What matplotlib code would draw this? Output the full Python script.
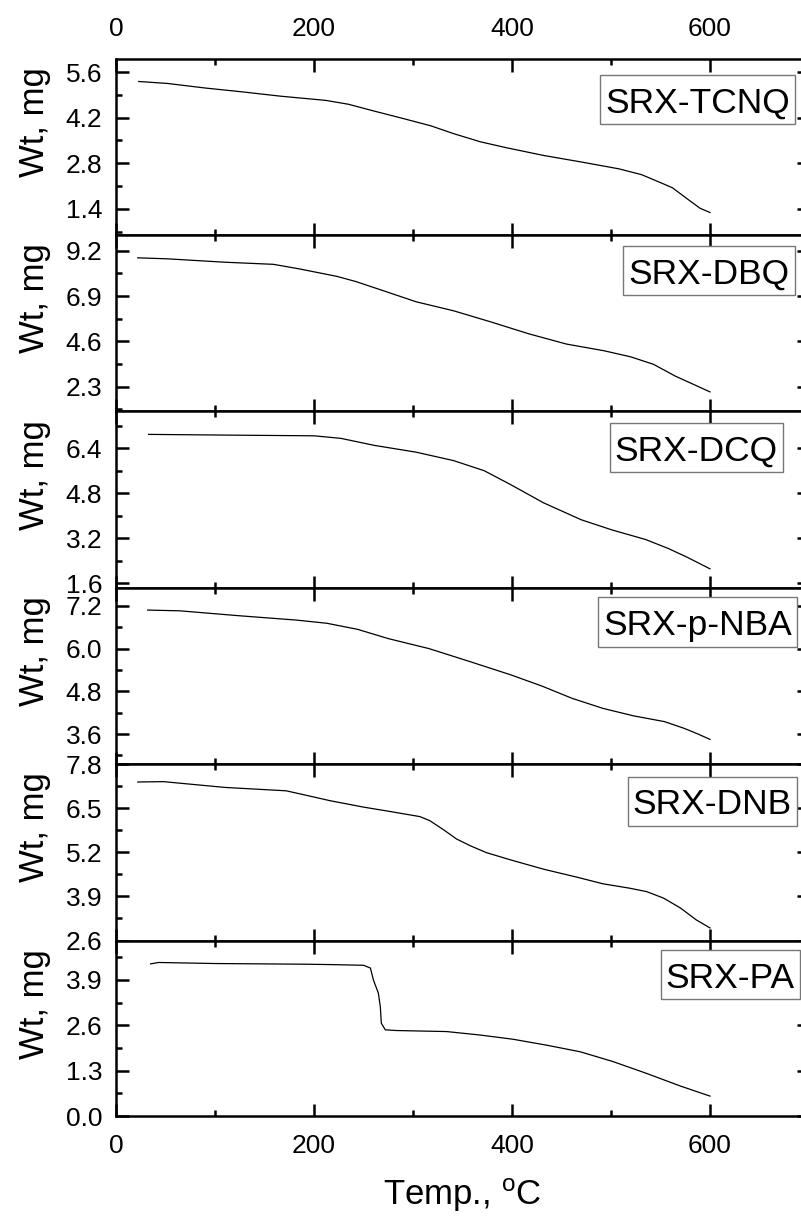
import numpy as np
import matplotlib
matplotlib.use('Agg')
import matplotlib.pyplot as plt
from matplotlib.patches import Rectangle
from matplotlib.ticker import AutoMinorLocator

plt.rcParams['font.family'] = ['Liberation Sans', 'DejaVu Sans']
plt.rcParams['mathtext.fontset'] = 'custom'
plt.rcParams['mathtext.rm'] = 'Liberation Sans'

# TGA curves (temperature in C, weight in mg)
names = ['SRX-TCNQ', 'SRX-DBQ', 'SRX-DCQ', 'SRX-p-NBA', 'SRX-DNB', 'SRX-PA']

t_tcnq = [23, 52, 90, 128, 166, 212, 235, 261, 288, 318, 341, 368, 394, 432, 470,
          508, 531, 549, 562, 573, 581, 590, 600]
w_tcnq = [5.31, 5.25, 5.11, 4.99, 4.86, 4.73, 4.61, 4.40, 4.19, 3.95, 3.71, 3.46, 3.28,
          3.04, 2.84, 2.63, 2.45, 2.22, 2.05, 1.80, 1.62, 1.42, 1.29]

t_dbq = [22, 52, 109, 159, 185, 223, 242, 273, 303, 341, 379, 417, 455, 493, 520,
         543, 565, 583, 600]
w_dbq = [8.84, 8.79, 8.62, 8.51, 8.28, 7.90, 7.64, 7.12, 6.61, 6.15, 5.58, 4.98, 4.46,
         4.12, 3.81, 3.43, 2.83, 2.42, 2.03]

t_dcq = [33, 128, 200, 227, 261, 303, 341, 372, 398, 432, 470, 501, 535, 558, 577, 600]
w_dcq = [6.89, 6.86, 6.84, 6.75, 6.50, 6.26, 5.96, 5.60, 5.12, 4.46, 3.86, 3.50, 3.16,
         2.84, 2.53, 2.12]

t_nba = [32, 64, 125, 182, 213, 244, 275, 316, 358, 399, 430, 461, 492, 523, 554,
         574, 588, 600]
w_nba = [7.08, 7.06, 6.92, 6.80, 6.71, 6.54, 6.28, 6.00, 5.63, 5.26, 4.95, 4.60, 4.32,
         4.11, 3.95, 3.76, 3.60, 3.45]

t_dnb = [22, 48, 110, 172, 198, 216, 250, 277, 307, 317, 331, 344, 358, 374, 398,
         432, 465, 492, 519, 536, 553, 570, 586, 600]
w_dnb = [7.27, 7.28, 7.11, 7.01, 6.84, 6.72, 6.53, 6.40, 6.25, 6.13, 5.86, 5.59, 5.39,
         5.19, 4.98, 4.70, 4.47, 4.27, 4.14, 4.04, 3.85, 3.56, 3.21, 2.97]

t_pa = [35, 43, 100, 193, 216, 250, 257, 260, 265, 267, 268, 272, 283, 334, 368,
        401, 435, 469, 502, 536, 570, 600]
w_pa = [4.36, 4.40, 4.37, 4.35, 4.34, 4.32, 4.24, 3.90, 3.52, 3.13, 2.66, 2.47, 2.45,
        2.42, 2.32, 2.20, 2.03, 1.84, 1.56, 1.22, 0.86, 0.57]

temps = [t_tcnq, t_dbq, t_dcq, t_nba, t_dnb, t_pa]
weights = [w_tcnq, w_dbq, w_dcq, w_nba, w_dnb, w_pa]

ylims = [(0.6, 6.0), (1.06, 10.0), (1.44, 7.72), (2.76, 7.70), (2.6, 7.8), (0.0, 5.03)]
yticks = [[1.4, 2.8, 4.2, 5.6],
          [2.3, 4.6, 6.9, 9.2],
          [1.6, 3.2, 4.8, 6.4],
          [3.6, 4.8, 6.0, 7.2],
          [2.6, 3.9, 5.2, 6.5, 7.8],
          [0.0, 1.3, 2.6, 3.9]]
xticks = [0, 200, 400, 600]

W, H = 801, 1218
fig = plt.figure(figsize=(W / 100, H / 100), dpi=100)
edges = [59, 235, 411, 588, 764, 940.5, 1116]
left, right = 116, 809
# name labels: right edge and baseline of the text, in pixels from top-left
lab_right = [790, 789.5, 778, 792, 792, 795]
lab_base = [112.5, 283.5, 460.7, 635.2, 814.5, 987.5]

axes = []
for i in range(6):
    top, bot = edges[i], edges[i + 1]
    ax = fig.add_axes([left / W, 1 - bot / H, (right - left) / W, (bot - top) / H])
    axes.append(ax)
    ax.plot(temps[i], weights[i], color='black', lw=0.9)
    ax.set_xlim(0, 700)
    ax.set_ylim(*ylims[i])
    ax.set_xticks(xticks)
    ax.set_yticks(yticks[i])
    ax.set_yticklabels(['%.1f' % v for v in yticks[i]])
    ax.xaxis.set_minor_locator(AutoMinorLocator(2))
    ax.yaxis.set_minor_locator(AutoMinorLocator(2))
    ax.tick_params(which='both', direction='in', top=True, right=True, width=1.8,
                   labelsize=19, labelbottom=(i == 5), labeltop=(i == 0))
    ax.tick_params(which='major', length=9, pad=10)
    ax.tick_params(axis='x', which='major', pad=13)
    ax.tick_params(which='minor', length=4.5)
    for s in ax.spines.values():
        s.set_linewidth(1.8)
    ax.set_ylabel('Wt, mg', fontsize=25)
    ax.yaxis.set_label_coords(-0.094, 0.64)

axes[-1].set_xlabel('Temp., $\\mathregular{^{o}}$C', fontsize=25, labelpad=13)

labels = []
for i in range(6):
    t = fig.text(lab_right[i] / W, 1 - lab_base[i] / H, names[i], ha='right',
                 va='baseline', fontsize=25.5, zorder=5)
    labels.append(t)

fig.canvas.draw()
for i, t in enumerate(labels):
    ext = t.get_window_extent()
    x0 = ext.x0 - 5
    x1 = ext.x1 + 5
    yb = H - lab_base[i] - 11.3
    yt = H - lab_base[i] + 25.4 + 12.5
    fig.add_artist(Rectangle((x0 / W, yb / H), (x1 - x0) / W, (yt - yb) / H,
                             transform=fig.transFigure, fc='white', ec='#777777',
                             lw=1, zorder=4))

fig.savefig('out.png', dpi=100)
